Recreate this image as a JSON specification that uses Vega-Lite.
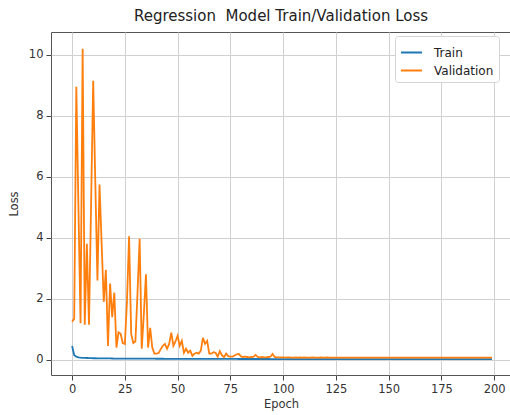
{
 "$schema": "https://vega.github.io/schema/vega-lite/v6.json",
 "width": 460, "height": 343,
 "autosize": {"type": "none"},
 "padding": {"left": 51, "top": 32, "right": 0, "bottom": 40},
 "background": "white",
 "title": {"text": "Regression \u00a0Model Train/Validation Loss", "fontSize": 15, "font": "DejaVu Sans", "fontWeight": "normal", "anchor": "middle", "offset": 8, "color": "#222222"},
 "data": {"values": [
{"e":0,"Train":0.45,"Validation":1.25},{"e":1,"Train":0.15,"Validation":1.35},{"e":2,"Train":0.1,"Validation":8.95},{"e":3,"Train":0.08,"Validation":5.0},{"e":4,"Train":0.07,"Validation":1.2},
{"e":5,"Train":0.065,"Validation":10.2},{"e":6,"Train":0.06,"Validation":1.15},{"e":7,"Train":0.058,"Validation":3.8},{"e":8,"Train":0.055,"Validation":1.15},{"e":9,"Train":0.053,"Validation":5.1},
{"e":10,"Train":0.05,"Validation":9.15},{"e":11,"Train":0.049,"Validation":5.8},{"e":12,"Train":0.048,"Validation":2.6},{"e":13,"Train":0.047,"Validation":5.75},{"e":14,"Train":0.046,"Validation":3.8},
{"e":15,"Train":0.045,"Validation":1.9},{"e":16,"Train":0.044,"Validation":2.95},{"e":17,"Train":0.043,"Validation":0.45},{"e":18,"Train":0.042,"Validation":2.5},{"e":19,"Train":0.041,"Validation":1.4},
{"e":20,"Train":0.04,"Validation":2.2},{"e":21,"Train":0.04,"Validation":0.4},{"e":22,"Train":0.039,"Validation":0.9},{"e":23,"Train":0.039,"Validation":0.85},{"e":24,"Train":0.038,"Validation":0.55},
{"e":25,"Train":0.038,"Validation":0.52},{"e":26,"Train":0.037,"Validation":1.9},{"e":27,"Train":0.037,"Validation":4.05},{"e":28,"Train":0.037,"Validation":0.85},{"e":29,"Train":0.036,"Validation":0.55},
{"e":30,"Train":0.036,"Validation":0.6},{"e":31,"Train":0.036,"Validation":2.2},{"e":32,"Train":0.035,"Validation":3.97},{"e":33,"Train":0.035,"Validation":0.36},{"e":34,"Train":0.035,"Validation":1.5},
{"e":35,"Train":0.035,"Validation":2.8},{"e":36,"Train":0.034,"Validation":0.4},{"e":37,"Train":0.034,"Validation":1.05},{"e":38,"Train":0.034,"Validation":0.4},{"e":39,"Train":0.034,"Validation":0.2},
{"e":40,"Train":0.033,"Validation":0.2},{"e":41,"Train":0.033,"Validation":0.22},{"e":42,"Train":0.033,"Validation":0.35},{"e":43,"Train":0.033,"Validation":0.46},{"e":44,"Train":0.032,"Validation":0.52},
{"e":45,"Train":0.032,"Validation":0.36},{"e":46,"Train":0.032,"Validation":0.52},{"e":47,"Train":0.032,"Validation":0.89},{"e":48,"Train":0.031,"Validation":0.46},{"e":49,"Train":0.031,"Validation":0.6},
{"e":50,"Train":0.031,"Validation":0.79},{"e":51,"Train":0.031,"Validation":0.46},{"e":52,"Train":0.03,"Validation":0.62},{"e":53,"Train":0.03,"Validation":0.23},{"e":54,"Train":0.03,"Validation":0.36},
{"e":55,"Train":0.03,"Validation":0.23},{"e":56,"Train":0.03,"Validation":0.3},{"e":57,"Train":0.029,"Validation":0.13},{"e":58,"Train":0.029,"Validation":0.2},{"e":59,"Train":0.029,"Validation":0.23},
{"e":60,"Train":0.029,"Validation":0.2},{"e":61,"Train":0.029,"Validation":0.3},{"e":62,"Train":0.028,"Validation":0.72},{"e":63,"Train":0.028,"Validation":0.52},{"e":64,"Train":0.028,"Validation":0.62},
{"e":65,"Train":0.028,"Validation":0.2},{"e":66,"Train":0.028,"Validation":0.2},{"e":67,"Train":0.027,"Validation":0.25},{"e":68,"Train":0.027,"Validation":0.23},{"e":69,"Train":0.027,"Validation":0.1},
{"e":70,"Train":0.027,"Validation":0.28},{"e":71,"Train":0.027,"Validation":0.15},{"e":72,"Train":0.027,"Validation":0.08},{"e":73,"Train":0.026,"Validation":0.2},{"e":74,"Train":0.026,"Validation":0.12},
{"e":75,"Train":0.026,"Validation":0.1},{"e":76,"Train":0.026,"Validation":0.1},{"e":77,"Train":0.026,"Validation":0.14},{"e":78,"Train":0.026,"Validation":0.18},{"e":79,"Train":0.025,"Validation":0.19},
{"e":80,"Train":0.025,"Validation":0.11},{"e":81,"Train":0.025,"Validation":0.09},{"e":82,"Train":0.025,"Validation":0.1},{"e":83,"Train":0.025,"Validation":0.09},{"e":84,"Train":0.025,"Validation":0.08},
{"e":85,"Train":0.025,"Validation":0.09},{"e":86,"Train":0.024,"Validation":0.1},{"e":87,"Train":0.024,"Validation":0.16},{"e":88,"Train":0.024,"Validation":0.09},{"e":89,"Train":0.024,"Validation":0.08},
{"e":90,"Train":0.024,"Validation":0.09},{"e":91,"Train":0.024,"Validation":0.08},{"e":92,"Train":0.024,"Validation":0.08},{"e":93,"Train":0.024,"Validation":0.09},{"e":94,"Train":0.023,"Validation":0.1},
{"e":95,"Train":0.023,"Validation":0.19},{"e":96,"Train":0.023,"Validation":0.09},{"e":97,"Train":0.023,"Validation":0.08},{"e":98,"Train":0.023,"Validation":0.075},{"e":99,"Train":0.023,"Validation":0.08},
{"e":100,"Train":0.023,"Validation":0.075},{"e":101,"Train":0.023,"Validation":0.07},{"e":102,"Train":0.023,"Validation":0.08},{"e":103,"Train":0.022,"Validation":0.075},{"e":104,"Train":0.022,"Validation":0.07},
{"e":105,"Train":0.022,"Validation":0.072},{"e":106,"Train":0.022,"Validation":0.078},{"e":107,"Train":0.022,"Validation":0.07},{"e":108,"Train":0.022,"Validation":0.074},{"e":109,"Train":0.022,"Validation":0.07},
{"e":110,"Train":0.022,"Validation":0.076},{"e":111,"Train":0.022,"Validation":0.07},{"e":112,"Train":0.022,"Validation":0.073},{"e":113,"Train":0.022,"Validation":0.07},{"e":114,"Train":0.022,"Validation":0.075},
{"e":115,"Train":0.022,"Validation":0.07},{"e":116,"Train":0.021,"Validation":0.072},{"e":117,"Train":0.021,"Validation":0.07},{"e":118,"Train":0.021,"Validation":0.074},{"e":119,"Train":0.021,"Validation":0.069},
{"e":120,"Train":0.021,"Validation":0.071},{"e":121,"Train":0.021,"Validation":0.075},{"e":122,"Train":0.021,"Validation":0.07},{"e":123,"Train":0.021,"Validation":0.072},{"e":124,"Train":0.021,"Validation":0.069},
{"e":125,"Train":0.021,"Validation":0.071},{"e":126,"Train":0.021,"Validation":0.07},{"e":127,"Train":0.021,"Validation":0.073},{"e":128,"Train":0.021,"Validation":0.069},{"e":129,"Train":0.021,"Validation":0.07},
{"e":130,"Train":0.021,"Validation":0.072},{"e":131,"Train":0.021,"Validation":0.069},{"e":132,"Train":0.021,"Validation":0.07},{"e":133,"Train":0.021,"Validation":0.071},{"e":134,"Train":0.02,"Validation":0.069},
{"e":135,"Train":0.02,"Validation":0.07},{"e":136,"Train":0.02,"Validation":0.072},{"e":137,"Train":0.02,"Validation":0.069},{"e":138,"Train":0.02,"Validation":0.07},{"e":139,"Train":0.02,"Validation":0.071},
{"e":140,"Train":0.02,"Validation":0.069},{"e":141,"Train":0.02,"Validation":0.07},{"e":142,"Train":0.02,"Validation":0.068},{"e":143,"Train":0.02,"Validation":0.07},{"e":144,"Train":0.02,"Validation":0.071},
{"e":145,"Train":0.02,"Validation":0.069},{"e":146,"Train":0.02,"Validation":0.07},{"e":147,"Train":0.02,"Validation":0.068},{"e":148,"Train":0.02,"Validation":0.07},{"e":149,"Train":0.02,"Validation":0.069},
{"e":150,"Train":0.02,"Validation":0.07},{"e":151,"Train":0.02,"Validation":0.068},{"e":152,"Train":0.02,"Validation":0.07},{"e":153,"Train":0.02,"Validation":0.069},{"e":154,"Train":0.02,"Validation":0.07},
{"e":155,"Train":0.02,"Validation":0.068},{"e":156,"Train":0.02,"Validation":0.069},{"e":157,"Train":0.02,"Validation":0.07},{"e":158,"Train":0.02,"Validation":0.068},{"e":159,"Train":0.02,"Validation":0.069},
{"e":160,"Train":0.02,"Validation":0.07},{"e":161,"Train":0.019,"Validation":0.068},{"e":162,"Train":0.019,"Validation":0.069},{"e":163,"Train":0.019,"Validation":0.07},{"e":164,"Train":0.019,"Validation":0.068},
{"e":165,"Train":0.019,"Validation":0.069},{"e":166,"Train":0.019,"Validation":0.068},{"e":167,"Train":0.019,"Validation":0.07},{"e":168,"Train":0.019,"Validation":0.068},{"e":169,"Train":0.019,"Validation":0.069},
{"e":170,"Train":0.019,"Validation":0.068},{"e":171,"Train":0.019,"Validation":0.069},{"e":172,"Train":0.019,"Validation":0.07},{"e":173,"Train":0.019,"Validation":0.068},{"e":174,"Train":0.019,"Validation":0.069},
{"e":175,"Train":0.019,"Validation":0.068},{"e":176,"Train":0.019,"Validation":0.069},{"e":177,"Train":0.019,"Validation":0.068},{"e":178,"Train":0.019,"Validation":0.07},{"e":179,"Train":0.019,"Validation":0.068},
{"e":180,"Train":0.019,"Validation":0.069},{"e":181,"Train":0.019,"Validation":0.068},{"e":182,"Train":0.019,"Validation":0.069},{"e":183,"Train":0.019,"Validation":0.068},{"e":184,"Train":0.019,"Validation":0.067},
{"e":185,"Train":0.019,"Validation":0.069},{"e":186,"Train":0.019,"Validation":0.068},{"e":187,"Train":0.019,"Validation":0.067},{"e":188,"Train":0.019,"Validation":0.069},{"e":189,"Train":0.019,"Validation":0.068},
{"e":190,"Train":0.018,"Validation":0.067},{"e":191,"Train":0.018,"Validation":0.068},{"e":192,"Train":0.018,"Validation":0.069},{"e":193,"Train":0.018,"Validation":0.067},{"e":194,"Train":0.018,"Validation":0.068},
{"e":195,"Train":0.018,"Validation":0.067},{"e":196,"Train":0.018,"Validation":0.068},{"e":197,"Train":0.018,"Validation":0.069},{"e":198,"Train":0.018,"Validation":0.067},{"e":199,"Train":0.018,"Validation":0.068}
 ]},
 "transform": [{"fold": ["Train", "Validation"], "as": ["series", "loss"]}],
 "mark": {"type": "line", "strokeWidth": 1.8, "clip": true},
 "encoding": {
  "x": {"field": "e", "type": "quantitative", "scale": {"domain": [-10, 208], "nice": false, "zero": false},
        "axis": {"values": [0, 25, 50, 75, 100, 125, 150, 175, 200], "title": "Epoch", "titlePadding": 4}},
  "y": {"field": "loss", "type": "quantitative", "scale": {"domain": [-0.5, 10.75], "nice": false, "zero": false},
        "axis": {"values": [0, 2, 4, 6, 8, 10], "title": "Loss", "titlePadding": 9}},
  "color": {"field": "series", "type": "nominal", "scale": {"domain": ["Train", "Validation"], "range": ["#1f77b4", "#ff7f0e"]},
            "legend": {"title": null, "orient": "none", "legendX": 344, "legendY": 4}}
 },
 "config": {
  "font": "DejaVu Sans",
  "view": {"stroke": "#555555", "strokeWidth": 1},
  "axis": {"domain": false, "grid": true, "gridColor": "#d0d0d0", "gridWidth": 1, "tickColor": "#444444", "tickSize": 5,
           "labelFont": "DejaVu Sans", "labelFontSize": 11.5, "labelColor": "#333333", "labelPadding": 3,
           "titleFont": "DejaVu Sans", "titleFontSize": 11.5, "titleFontWeight": "normal", "titleColor": "#333333"},
  "legend": {"symbolType": "stroke", "symbolSize": 441, "symbolStrokeWidth": 2, "labelFont": "DejaVu Sans", "labelFontSize": 12,
             "labelColor": "#222222", "fillColor": "white", "strokeColor": "#d4d4d4", "cornerRadius": 3, "padding": 5, "rowPadding": 0, "labelOffset": 11}
 }
}
